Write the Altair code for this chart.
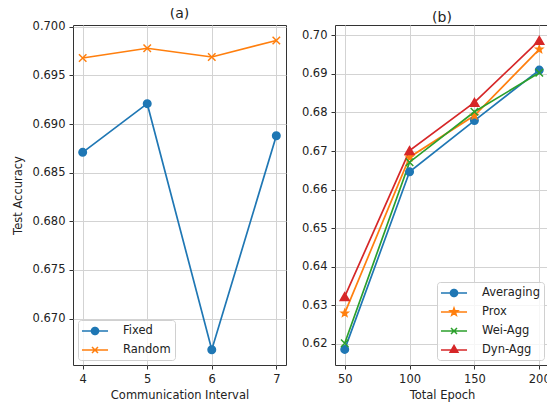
import math
import altair as alt
import pandas as pd

# ---- data ----
intervals = [4, 5, 6, 7]
fixed_acc = [0.6871, 0.6921, 0.6668, 0.6888]
random_acc = [0.6968, 0.6978, 0.6969, 0.6986]

epochs = [50, 100, 150, 200]
averaging_acc = [0.6185, 0.6646, 0.6779, 0.6910]
prox_acc = [0.6279, 0.6684, 0.6792, 0.6964]
weiagg_acc = [0.6201, 0.6671, 0.6802, 0.6903]
dynagg_acc = [0.6322, 0.6701, 0.6826, 0.6987]

series_a = ["Fixed", "Random"]
series_b = ["Averaging", "Prox", "Wei-Agg", "Dyn-Agg"]
colors_a = ["#1f77b4", "#ff7f0e"]
colors_b = ["#1f77b4", "#ff7f0e", "#2ca02c", "#d62728"]

df_a = pd.DataFrame({
    "x": intervals * 2,
    "acc": fixed_acc + random_acc,
    "series": ["Fixed"] * 4 + ["Random"] * 4,
})
df_b = pd.DataFrame({
    "x": epochs * 4,
    "acc": averaging_acc + prox_acc + weiagg_acc + dynagg_acc,
    "series": ["Averaging"] * 4 + ["Prox"] * 4 + ["Wei-Agg"] * 4 + ["Dyn-Agg"] * 4,
})


# ---- marker shapes (SVG paths) ----
def poly(pts):
    return "M" + "L".join(f"{x:.3f},{y:.3f}" for x, y in pts) + "Z"


def star(ro, ri):
    pts = []
    for k in range(10):
        r = ro if k % 2 == 0 else ri
        a = -math.pi / 2 + k * math.pi / 5
        pts.append((r * math.cos(a), r * math.sin(a)))
    return poly(pts)


def circ(r, n=18):
    return poly([(r * math.cos(2 * math.pi * k / n), r * math.sin(2 * math.pi * k / n)) for k in range(n)])


def xmark(r):
    return f"M{-r},{-r}L{r},{r}M{-r},{r}L{r},{-r}"


def tri(r):
    return poly([(0, -r), (0.87 * r, 0.5 * r), (-0.87 * r, 0.5 * r)])


LINE = "M-2.17,0L2.17,0"
shapes_a = ["circle", xmark(1)]
sizes_a = [56, 56]
shapes_b = ["circle", star(0.95, 0.4), xmark(1), "triangle-up"]
sizes_b = [56, 56, 56, 80]
leg_shapes_a = [LINE + circ(0.6), LINE + xmark(0.5)]
leg_shapes_b = [LINE + circ(0.6), LINE + star(0.65, 0.26), LINE + xmark(0.5), LINE + tri(0.75)]


def ternary(domain, values):
    expr = f"'{values[-1]}'"
    for d, v in reversed(list(zip(domain[:-1], values[:-1]))):
        expr = f"datum.value === '{d}' ? '{v}' : ({expr})"
    return expr


def panel(df, series, colors, shapes, sizes, leg_shapes, xdom, xticks, ydom, yticks, yfmt,
          xtitle, ytitle, title, orient, width):
    cscale = alt.Scale(domain=series, range=colors)
    xenc = alt.X("x:Q", scale=alt.Scale(domain=xdom, nice=False, zero=False),
                 axis=alt.Axis(values=xticks, format="d", title=xtitle, titlePadding=5))
    yenc = alt.Y("acc:Q", scale=alt.Scale(domain=ydom, nice=False, zero=False),
                 axis=alt.Axis(values=yticks, format=yfmt, title=ytitle, titlePadding=9))
    legend = alt.Legend(
        title=None, orient=orient, offset=5, padding=4,
        symbolSize=144, symbolStrokeWidth=1.5, symbolOffset=6, labelOffset=21, rowPadding=5,
        symbolType=alt.ExprRef(expr=ternary(series, leg_shapes)),
        symbolFillColor=alt.ExprRef(expr=ternary(series, colors)),
        symbolStrokeColor=alt.ExprRef(expr=ternary(series, colors)),
        symbolOpacity=1,
        fillColor="rgba(255,255,255,0.8)", strokeColor="#d0d0d0", cornerRadius=3,
        labelFontSize=11.5, labelColor="#222222",
    )
    lines = alt.Chart(df).mark_line(strokeWidth=1.7).encode(
        x=xenc, y=yenc,
        color=alt.Color("series:N", scale=cscale, legend=legend),
    )
    layers = [lines]
    for s, c, shp, sz in zip(series, colors, shapes, sizes):
        layers.append(
            alt.Chart(df).transform_filter(alt.datum.series == s).mark_point(
                shape=shp, filled=True, fill=c, stroke=c, size=sz, strokeWidth=1.5, opacity=1
            ).encode(x=xenc, y=yenc)
        )
    return alt.layer(*layers).properties(
        width=width, height=340,
        title=alt.TitleParams(title, fontSize=14, fontWeight="normal", offset=0, color="#222222"),
    )


left = panel(df_a, series_a, colors_a, shapes_a, sizes_a, leg_shapes_a,
             [3.85, 7.15], intervals, [0.66523, 0.70019],
             [0.670, 0.675, 0.680, 0.685, 0.690, 0.695, 0.700], ".3f",
             "Communication Interval", "Test Accuracy", "(a)", "bottom-left", 213)
right = panel(df_b, series_b, colors_b, shapes_b, sizes_b, leg_shapes_b,
              [42.5, 207.5], epochs, [0.61445, 0.70271],
              [0.62, 0.63, 0.64, 0.65, 0.66, 0.67, 0.68, 0.69, 0.70], ".2f",
              "Total Epoch", None, "(b)", "bottom-right", 214)

chart = alt.hconcat(left, right, spacing=13).resolve_scale(
    color="independent"
).properties(
    padding={"left": 3, "top": -2, "right": -4, "bottom": 0}
).configure(
    font="DejaVu Sans"
).configure_axis(
    labelFontSize=11.5, titleFontSize=11.5, titleFontWeight="normal",
    labelColor="#222222", titleColor="#222222", tickColor="#333333",
    tickSize=4, labelPadding=4, domain=False,
    gridColor="#d3d3d3", gridWidth=1,
).configure_view(
    stroke="#333333", strokeWidth=1
)

chart.save("out.html", embed_options={"renderer": "svg", "actions": False})
